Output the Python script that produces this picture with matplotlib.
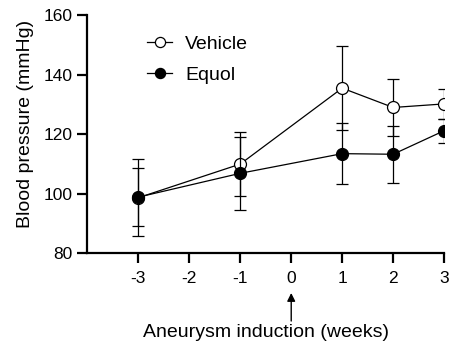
#!/usr/bin/env python3
"""Blood pressure over time, vehicle vs equol, with SEM error bars."""

import matplotlib

matplotlib.use("Agg")
import matplotlib.pyplot as plt
from matplotlib.patches import FancyArrowPatch
from matplotlib.transforms import blended_transform_factory

plt.rcParams["font.family"] = ["Liberation Sans", "DejaVu Sans"]

# ─── Data ───────────────────────────────────────────────────────────────────
weeks = [-3, -1, 1, 2, 3]
vehicle_mean = [98.7, 110.0, 135.5, 129.0, 130.2]
vehicle_err = [13.0, 10.7, 14.0, 9.7, 5.0]
equol_mean = [98.9, 106.9, 113.5, 113.3, 121.2]
equol_err = [9.8, 12.3, 10.2, 9.6, 4.0]

x_ticks = [-3, -2, -1, 0, 1, 2, 3]
y_ticks = [80, 100, 120, 140, 160]
induction_week = 0

TICK_FS = 12.5
LABEL_FS = 14

fig = plt.figure(figsize=(4.5, 3.52), dpi=100)
ax = fig.add_axes([0.194, 0.280, 0.793, 0.677])

common = dict(
    color="black",
    ecolor="black",
    elinewidth=0.9,
    capsize=4.5,
    capthick=0.9,
    linewidth=0.9,
    markersize=8.6,
    markeredgewidth=0.9,
)
veh = ax.errorbar(weeks, vehicle_mean, yerr=vehicle_err, marker="o",
                  markerfacecolor="white", zorder=3, **common)
equ = ax.errorbar(weeks, equol_mean, yerr=equol_err, marker="o",
                  markerfacecolor="black", zorder=4, **common)

ax.set_xlim(-4, 3)
ax.set_ylim(80, 160)
ax.set_xticks(x_ticks)
ax.set_yticks(y_ticks)
ax.set_xticklabels([str(t) for t in x_ticks], fontsize=TICK_FS)
ax.set_yticklabels([str(t) for t in y_ticks], fontsize=TICK_FS)

for side in ("top", "right"):
    ax.spines[side].set_visible(False)
for side in ("left", "bottom"):
    ax.spines[side].set_linewidth(1.6)
ax.tick_params(axis="both", width=1.6, length=7)
ax.tick_params(axis="x", pad=6)
ax.tick_params(axis="y", pad=3.5)

ax.set_ylabel("Blood pressure (mmHg)", fontsize=LABEL_FS)
ax.yaxis.set_label_coords(-0.15, 0.545)
ax.set_xlabel("Aneurysm induction (weeks)", fontsize=LABEL_FS, labelpad=27)

# arrow under the 0 tick (x in data, y in figure fraction)
trans = blended_transform_factory(ax.transData, fig.transFigure)
arrow = FancyArrowPatch(
    (induction_week, 0.088), (induction_week, 0.1676),
    transform=trans, arrowstyle="-|>", mutation_scale=12,
    color="black", lw=1.0, shrinkA=0, shrinkB=0, clip_on=False,
)
fig.add_artist(arrow)

ax.legend(
    [veh[0], equ[0]], ["Vehicle", "Equol"],
    loc="upper left", bbox_to_anchor=(0.118, 0.99), frameon=False,
    fontsize=LABEL_FS, handlelength=1.3, handletextpad=0.67,
    labelspacing=0.7, markerscale=0.85,
)

fig.savefig("out.png", dpi=100)
